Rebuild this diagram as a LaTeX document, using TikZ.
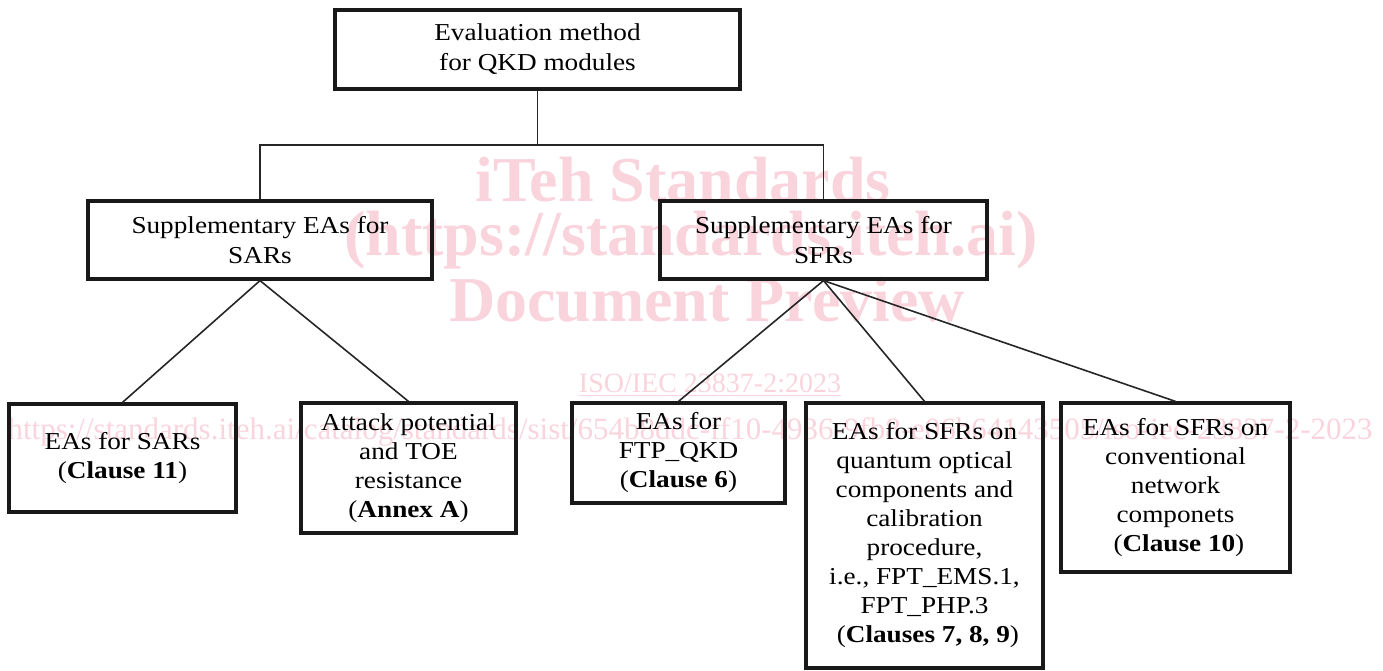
\documentclass[tikz,border=0pt]{standalone}
\usepackage{fontspec}
\setmainfont{Liberation Serif}[FakeStretch=1.12]
\newfontfamily\wfont{Liberation Serif}
\usepackage{xcolor}
\usetikzlibrary{calc}
\definecolor{wm}{RGB}{250,212,221}
\begin{document}
\begin{tikzpicture}[x=1pt,y=-1pt,
  box/.style={draw=black!90, line width=3.2pt, inner sep=0pt, align=center,
    font=\fontsize{24.3}{30}\selectfont},
  lowbox/.style={box, font=\fontsize{24.3}{29}\selectfont},
  conn/.style={draw=black!85, line width=1.6pt},
  wmtext/.style={text=wm, inner sep=0pt, font=\wfont\bfseries\fontsize{64}{64}\selectfont},
  wmsmall/.style={text=wm, inner sep=0pt, font=\wfont\fontsize{28}{28}\selectfont},
  wmurl/.style={text=wm, inner sep=0pt, font=\wfont\fontsize{31}{31}\selectfont}]
\useasboundingbox (0,0) rectangle (1383,671);
% watermark
\node[wmtext] (w1) at (683,180) {iTeh Standards};
\node[wmtext] (w2) at (691,240) {(https://standards.iteh.ai)};
\node[wmtext] (w3) at (707,300) {Document Preview};
\node[wmsmall] (w4) at (710,383) {ISO/IEC 23837-2:2023};
\draw[wm, line width=1.2pt] ($(w4.south west)+(0,3)$) -- ($(w4.south east)+(0,3)$);
\node[wmurl] (w5) at (690,432) {https://standards.iteh.ai/catalog/standards/sist/654b8ddc-ff10-4936-9fb8-e06b64143505/iso-iec-23837-2-2023};
% boxes
\node[box, minimum width=405pt, minimum height=79pt] (top) at (537.5,49.5) {Evaluation method\\for QKD modules};
\node[box, minimum width=344pt, minimum height=78pt] (sar) at (260,240) {Supplementary EAs for\\SARs};
\node[box, minimum width=327pt, minimum height=78pt] (sfr) at (823.5,240) {Supplementary EAs for\\SFRs};
\node[lowbox, minimum width=227pt, minimum height=108pt] (b1) at (122.5,458) {EAs for SARs\\(\textbf{Clause 11})};
\node[lowbox, minimum width=215pt, minimum height=130pt] (b2) at (408.5,468) {Attack potential\\and TOE\\resistance\\(\textbf{Annex A})};
\node[lowbox, minimum width=213pt, minimum height=100pt] (b3) at (678.5,453) {EAs for\\FTP\_QKD\\(\textbf{Clause 6})};
\node[lowbox, minimum width=237pt, minimum height=265pt] (b4) at (924.5,535.5) {EAs for SFRs on\\quantum optical\\components and\\calibration\\procedure,\\i.e., FPT\_EMS.1,\\FPT\_PHP.3\\ \ (\textbf{Clauses 7, 8, 9})};
\node[lowbox, minimum width=229pt, minimum height=169pt] (b5) at (1175.5,487.5) {EAs for SFRs on\\conventional\\network\\componets\ \\ \ (\textbf{Clause 10})};
% connectors
\coordinate (bus) at (537.5,145);
\draw[conn] (top.south) -- (bus);
\draw[conn] (sar.north) |- (bus) -| (sfr.north);
\draw[conn] (sar.south) -- (b1.north);
\draw[conn] (sar.south) -- (b2.north);
\draw[conn] (sfr.south) -- (b3.north);
\draw[conn] (sfr.south) -- (b4.north);
\draw[conn] (sfr.south) -- (b5.north);
\end{tikzpicture}
\end{document}
